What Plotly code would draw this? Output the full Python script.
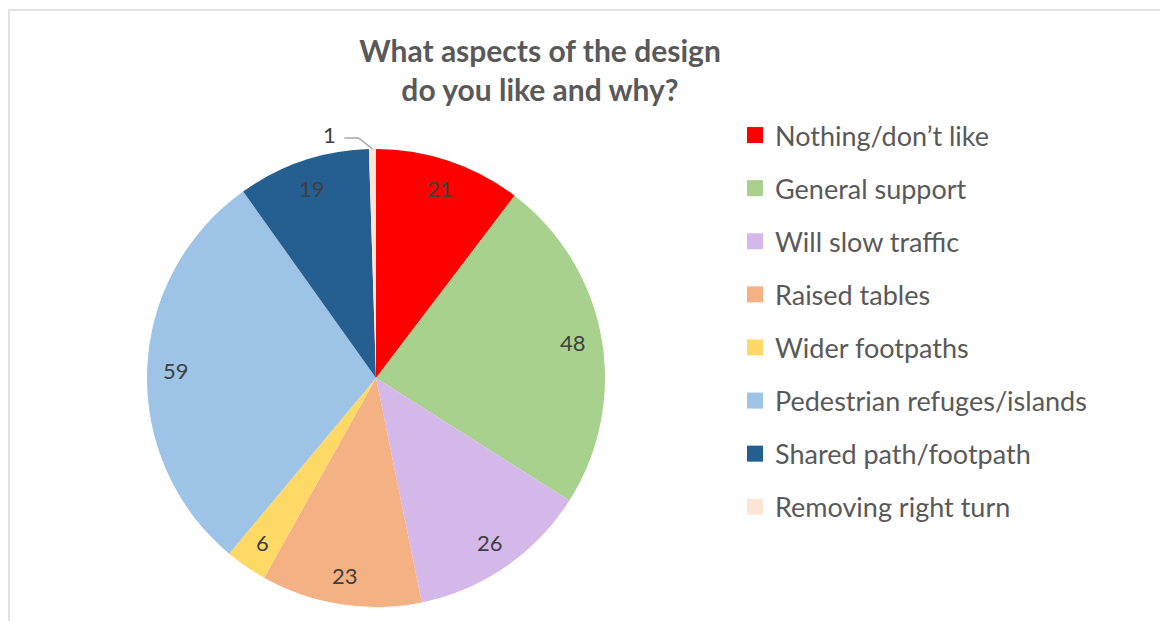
import math
import plotly.graph_objects as go

categories = ["Nothing/don’t like", "General support", "Will slow traffic", "Raised tables",
              "Wider footpaths", "Pedestrian refuges/islands", "Shared path/footpath",
              "Removing right turn"]
values = [21, 48, 26, 23, 6, 59, 19, 1]
colors = ["#FF0000", "#A9D18E", "#D5B8EA", "#F4B183", "#FFD966", "#9DC3E6", "#255E91", "#FBE5D6"]
title_text = "What aspects of the design<br>do you like and why?"

W, H = 1168, 621
FONT = "Lato"
TXT = "#404040"

# pie domain in figure pixels
px0, px1, py0, py1 = 139, 597, 141, 599
cx, cy, R = (px0 + px1) / 2, (py0 + py1) / 2, (px1 - px0) / 2


def to_paper(x, y):
    return x / W, 1 - y / H


fig = go.Figure()
fig.add_trace(go.Pie(
    labels=categories, values=values, sort=False, direction="clockwise", rotation=0,
    marker=dict(colors=colors, line=dict(width=0)),
    textinfo="none",
    domain=dict(x=[px0 / W, px1 / W], y=[1 - py1 / H, 1 - py0 / H]),
    showlegend=False,
    hoverinfo="label+value",
))

# data labels placed from the slice angles
total = sum(values)
annotations = []
shapes = []
cum = 0
for i, v in enumerate(values):
    mid = (cum + v / 2) / total * 2 * math.pi
    cum += v
    if v >= 3:
        r = 0.875 * R
        x, y = cx + r * math.sin(mid), cy - r * math.cos(mid)
        xp, yp = to_paper(x, y)
        annotations.append(dict(x=xp, y=yp, xref="paper", yref="paper", text=str(v),
                                showarrow=False, font=dict(family=FONT, size=22, color=TXT),
                                xanchor="center", yanchor="middle"))
    else:
        # outside label with leader line
        ex, ey = cx + R * math.sin(mid), cy - R * math.cos(mid)
        bx, by = ex - 14, ey - 11
        tx, ty = bx - 14, by
        pts = [to_paper(ex, ey), to_paper(bx, by), to_paper(tx, ty)]
        path = "M {} {} L {} {} L {} {}".format(pts[0][0], pts[0][1], pts[1][0], pts[1][1],
                                                  pts[2][0], pts[2][1])
        shapes.append(dict(type="path", xref="paper", yref="paper", path=path,
                           line=dict(color="#A6A6A6", width=1.5)))
        lx, ly = to_paper(tx - 6, ty - 4)
        annotations.append(dict(x=lx, y=ly, xref="paper", yref="paper", text=str(v),
                                showarrow=False, font=dict(family=FONT, size=22, color=TXT),
                                xanchor="right", yanchor="middle"))

# legend entries
for name, col in zip(categories, colors):
    fig.add_trace(go.Scatter(
        x=[None], y=[None], mode="markers", name=name, legendgroup=name,
        marker=dict(symbol="square", size=17, color=col),
        showlegend=True, hoverinfo="skip",
    ))

shapes.insert(0, dict(type="rect", xref="paper", yref="paper", x0=1 / W, x1=1.02, y0=-0.02,
                      y1=1 - 2 / H, line=dict(color="#D9D9D9", width=1.5),
                      fillcolor="rgba(0,0,0,0)", layer="below"))

fig.update_layout(
    width=W, height=H,
    margin=dict(l=0, r=0, t=0, b=0),
    paper_bgcolor="white", plot_bgcolor="white",
    title=dict(text=title_text, x=532 / W, xanchor="center", y=1 - 54 / H, yanchor="top",
               font=dict(family=FONT, size=30, color="#595959", weight="bold")),
    xaxis=dict(visible=False), yaxis=dict(visible=False),
    legend=dict(x=727 / W, xanchor="left", y=1 - 103 / H, yanchor="top",
                font=dict(family=FONT, size=27, color="#595959"),
                traceorder="grouped", tracegroupgap=15, itemsizing="trace",
                bgcolor="rgba(0,0,0,0)"),
    annotations=annotations,
    shapes=shapes,
)

fig.write_html("out.html")
